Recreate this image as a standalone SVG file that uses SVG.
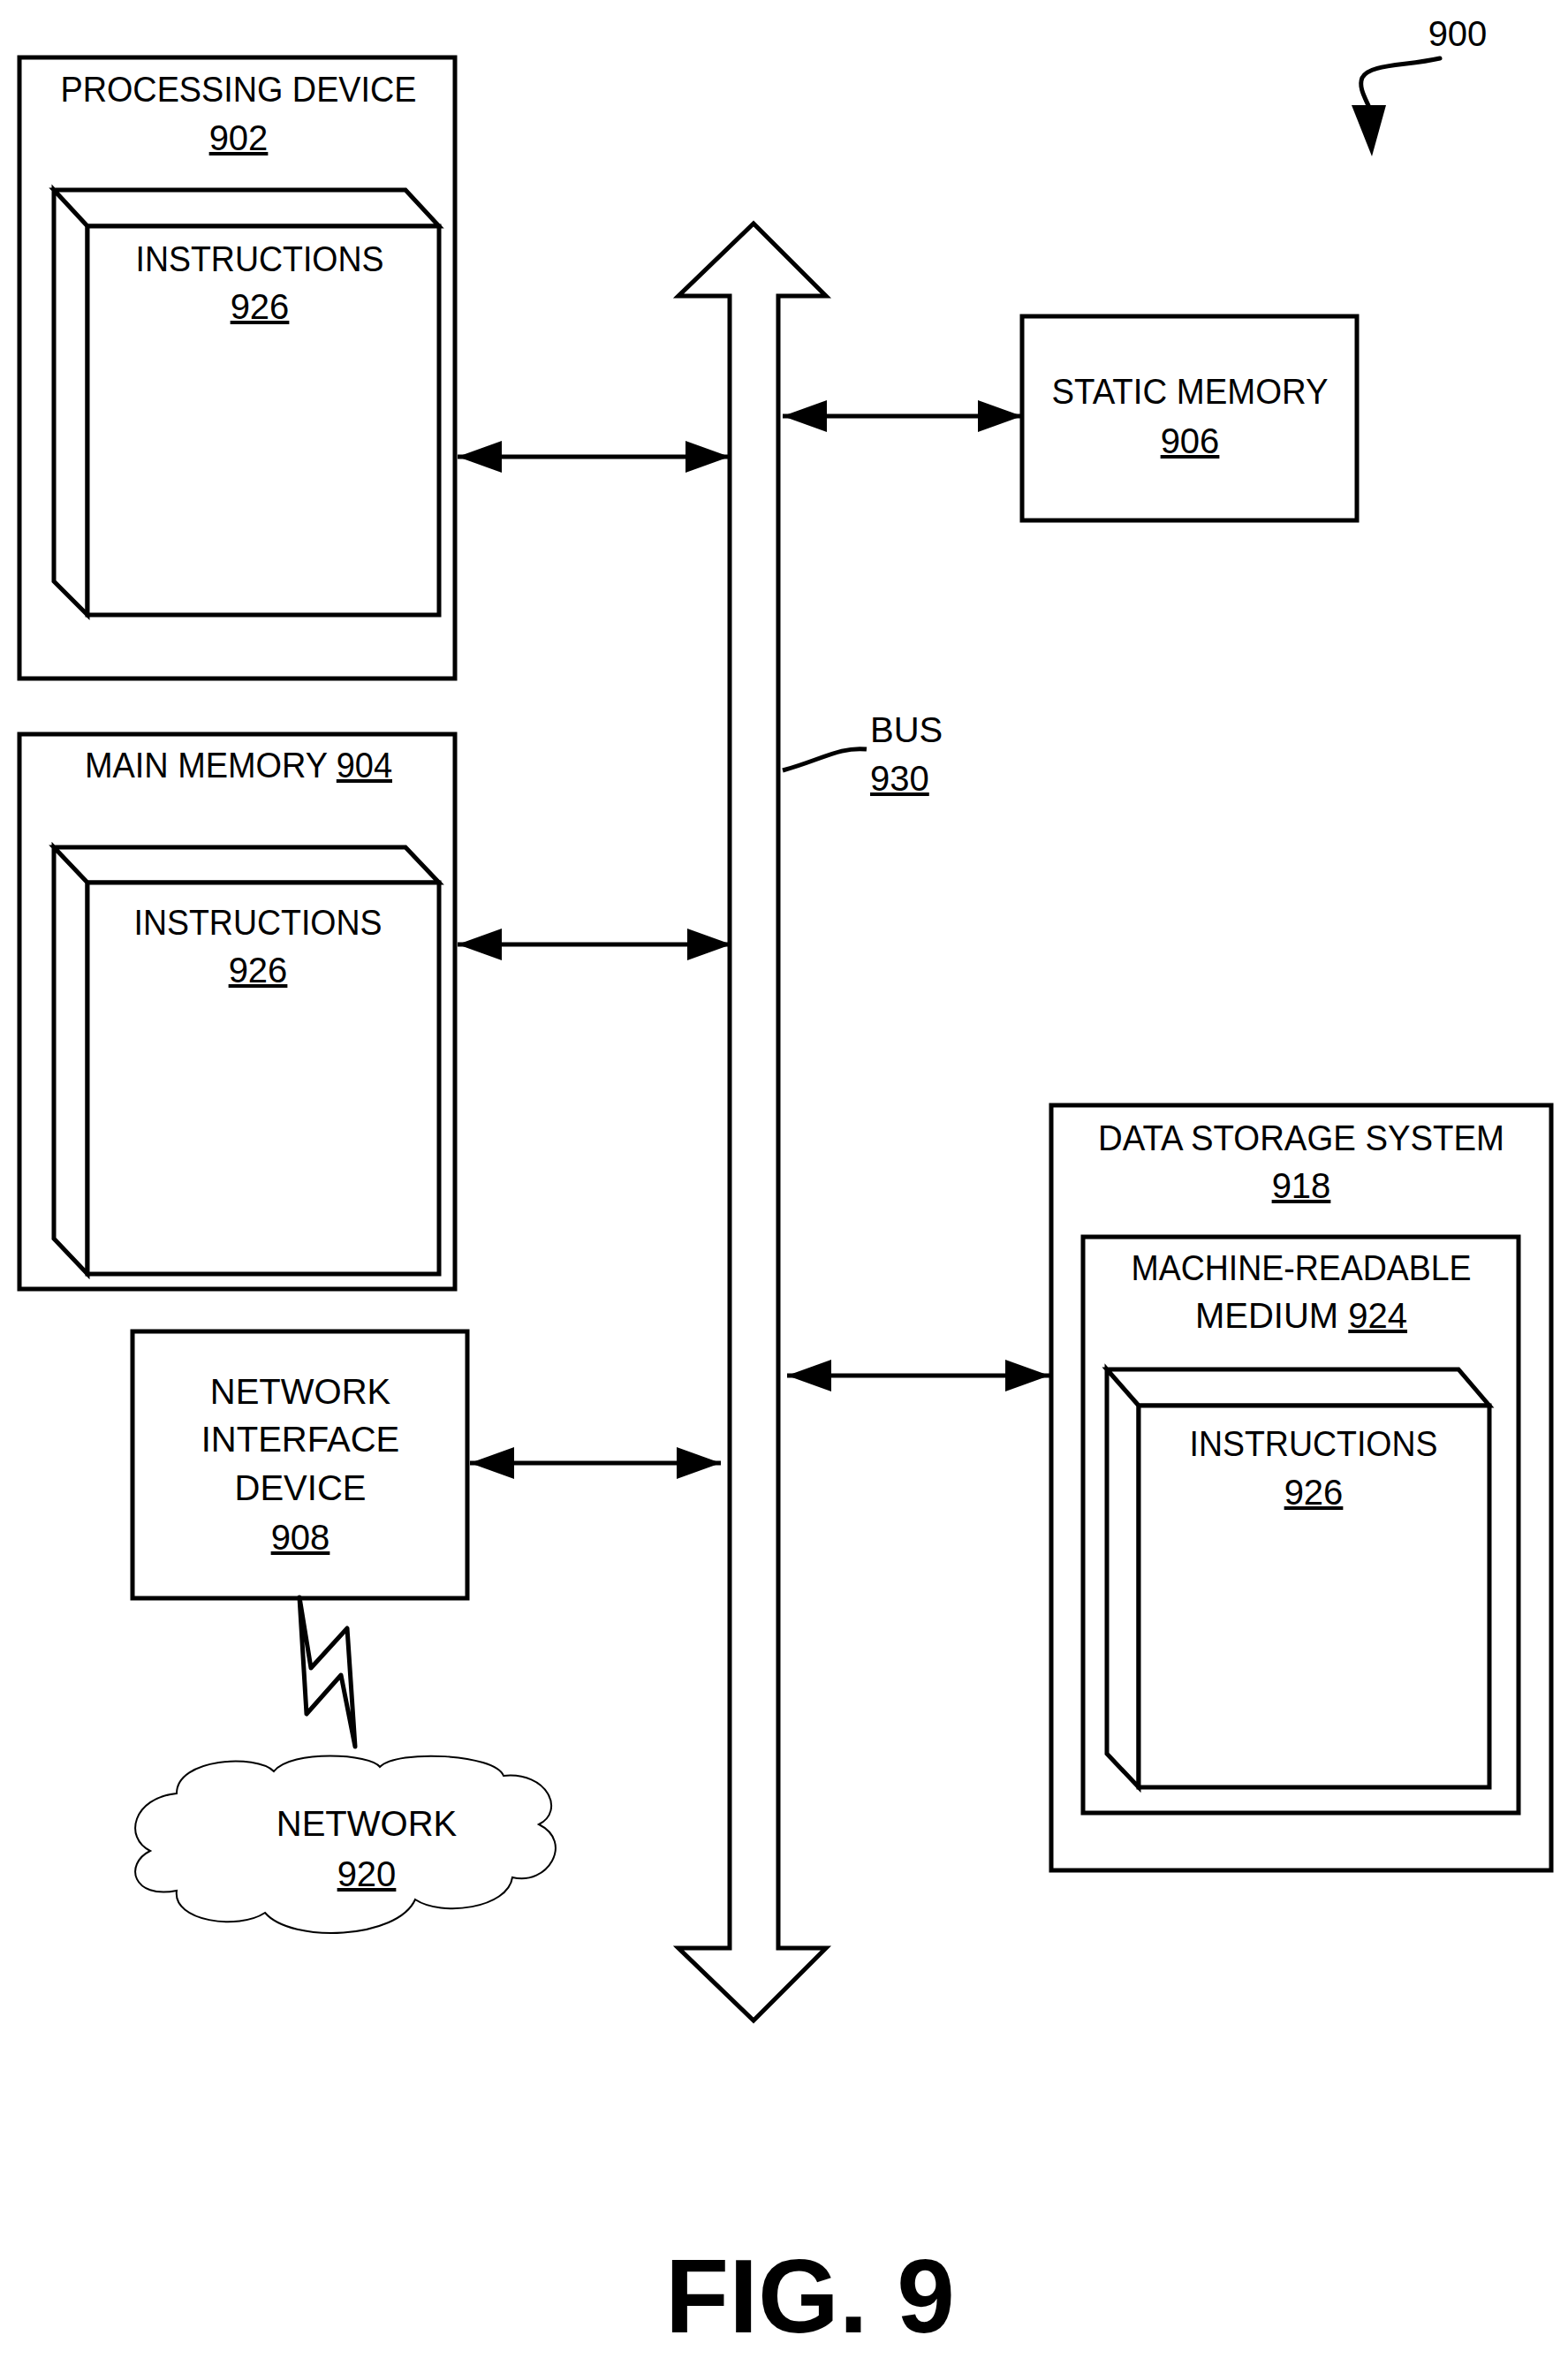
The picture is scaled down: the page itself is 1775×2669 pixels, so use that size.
<svg xmlns="http://www.w3.org/2000/svg" width="1775" height="2669" viewBox="0 0 1775 2669">
<style>
.b{fill:#fff;stroke:#000;stroke-width:5}
.t{font-family:"Liberation Sans",Arial,sans-serif;font-size:40px;text-anchor:middle;fill:#000}
.u{text-decoration:underline}
.l{stroke:#000;stroke-width:5;fill:none}
</style>
<defs>
<marker id="ah" viewBox="0 0 10 10" refX="10" refY="5" markerWidth="50" markerHeight="36" preserveAspectRatio="none" markerUnits="userSpaceOnUse" orient="auto-start-reverse"><path d="M0,0L10,5L0,10z"/></marker>
</defs>
<rect width="1775" height="2669" fill="#fff"/>
<g id="bus">
<polygon class="b" points="853,253 935,335 881,335 881,2205 935,2205 853,2287 768,2205 826,2205 826,335 768,335"/>
<path class="l" d="M886,872 C930,860 950,845 981,848"/>
<text class="t" x="985" y="840" style="text-anchor:start">BUS</text>
<text class="t u" x="985" y="895" style="text-anchor:start">930</text>
</g>
<g id="n902">
<rect class="b" x="22" y="65" width="493" height="703"/>
<text class="t" x="270" y="115" textLength="403" lengthAdjust="spacingAndGlyphs">PROCESSING DEVICE</text>
<text class="t u" x="270" y="170">902</text>
<path class="b" d="M61,215L459,215L497,256L99,256z M61,215L99,256L99,696L61,658z"/>
<rect class="b" x="99" y="256" width="398" height="440"/>
<text class="t" x="294" y="307" textLength="281" lengthAdjust="spacingAndGlyphs">INSTRUCTIONS</text>
<text class="t u" x="294" y="361">926</text>
</g>
<g id="n904">
<rect class="b" x="22" y="831" width="493" height="628"/>
<text class="t" x="270" y="880" textLength="348" lengthAdjust="spacingAndGlyphs">MAIN MEMORY <tspan class="u">904</tspan></text>
<path class="b" d="M61,959L459,959L497,999L99,999z M61,959L99,999L99,1442L61,1402z"/>
<rect class="b" x="99" y="999" width="398" height="443"/>
<text class="t" x="292" y="1058" textLength="281" lengthAdjust="spacingAndGlyphs">INSTRUCTIONS</text>
<text class="t u" x="292" y="1112">926</text>
</g>
<g id="n908">
<rect class="b" x="150" y="1507" width="379" height="302"/>
<text class="t" x="340" y="1589">NETWORK</text>
<text class="t" x="340" y="1643">INTERFACE</text>
<text class="t" x="340" y="1698">DEVICE</text>
<text class="t u" x="340" y="1754">908</text>
</g>
<g id="bolt">
<polygon class="l" stroke-width="6" stroke-linejoin="round" points="339,1808 352,1888 393,1843 402,1977 386,1896 347,1940"/>
</g>
<g id="n920">
<path fill="#fff" stroke="#000" stroke-width="2" d="M200,2030 C200,1990 290,1985 310,2005 C330,1980 420,1985 430,2000 C450,1980 560,1985 570,2010 C620,2005 640,2050 610,2065 C650,2085 620,2135 580,2125 C575,2160 500,2170 470,2150 C450,2195 330,2200 300,2165 C270,2185 195,2175 200,2140 C150,2150 140,2110 170,2095 C140,2080 150,2035 200,2030 z"/>
<text class="t" x="415" y="2078">NETWORK</text>
<text class="t u" x="415" y="2135">920</text>
</g>
<g id="n906">
<rect class="b" x="1157" y="358" width="379" height="231"/>
<text class="t" x="1347" y="457" textLength="313" lengthAdjust="spacingAndGlyphs">STATIC MEMORY</text>
<text class="t u" x="1347" y="513">906</text>
</g>
<g id="n918">
<rect class="b" x="1190" y="1251" width="566" height="866"/>
<text class="t" x="1473" y="1302" textLength="460" lengthAdjust="spacingAndGlyphs">DATA STORAGE SYSTEM</text>
<text class="t u" x="1473" y="1356">918</text>
<rect class="b" x="1226" y="1400" width="493" height="652"/>
<text class="t" x="1473" y="1449" textLength="385" lengthAdjust="spacingAndGlyphs">MACHINE-READABLE</text>
<text class="t" x="1473" y="1503">MEDIUM <tspan class="u">924</tspan></text>
<path class="b" d="M1253,1550L1651,1550L1686,1591L1289,1591z M1253,1550L1289,1591L1289,2023L1253,1985z"/>
<rect class="b" x="1289" y="1591" width="397" height="432"/>
<text class="t" x="1487" y="1648" textLength="281" lengthAdjust="spacingAndGlyphs">INSTRUCTIONS</text>
<text class="t u" x="1487" y="1703">926</text>
</g>
<g id="connectors" stroke-width="6">
<line class="l" x1="518" y1="517" x2="826" y2="517" marker-start="url(#ah)" marker-end="url(#ah)" stroke-width="6"/>
<line class="l" x1="518" y1="1069" x2="828" y2="1069" marker-start="url(#ah)" marker-end="url(#ah)" stroke-width="6"/>
<line class="l" x1="532" y1="1656" x2="816" y2="1656" marker-start="url(#ah)" marker-end="url(#ah)" stroke-width="6"/>
<line class="l" x1="886" y1="471" x2="1157" y2="471" marker-start="url(#ah)" marker-end="url(#ah)" stroke-width="6"/>
<line class="l" x1="891" y1="1557" x2="1188" y2="1557" marker-start="url(#ah)" marker-end="url(#ah)" stroke-width="6"/>
</g>
<g id="ref900">
<text class="t" x="1650" y="52">900</text>
<path class="l" stroke-width="8" stroke-linecap="round" d="M1630,66 C1590,75 1550,72 1542,88 C1537,100 1548,115 1550,122"/>
<polygon points="1530,119 1569,119 1553,177"/>
</g>
<text x="917" y="2640" style="font-family:'Liberation Sans',Arial,sans-serif;font-weight:bold;font-size:118px;text-anchor:middle">FIG. 9</text>
</svg>
